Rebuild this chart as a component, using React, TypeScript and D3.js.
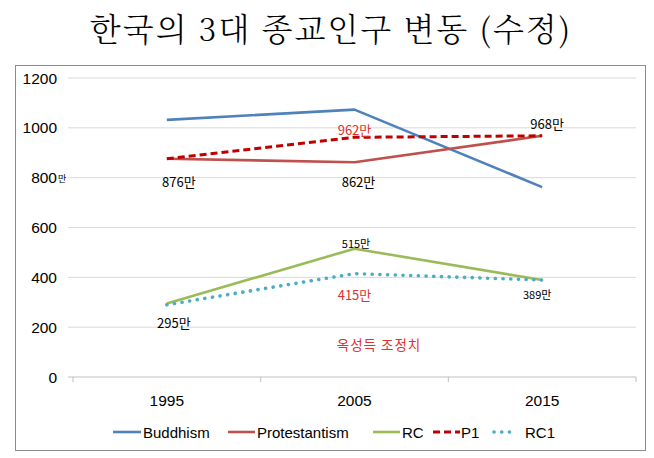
import React from 'react';
import * as d3 from 'd3';

const years = ['1995', '2005', '2015'];
const buddhism = [1032, 1073, 762];
const protestantism = [876, 862, 968];
const rc = [295, 515, 389];
const p1 = [876, 962, 968];
const rc1 = [290, 415, 389];
const yTicks = [0, 200, 400, 600, 800, 1000, 1200];

const seriesNames = ['Buddhism', 'Protestantism', 'RC', 'P1', 'RC1'];
const seriesValues = [buddhism, protestantism, rc, p1, rc1];

const W = 654;
const H = 458;
const plot = { left: 73, right: 636, top: 78, bottom: 377 };

const labelFont = "'Noto Sans CJK KR', sans-serif";
const axisFont = "'Liberation Sans', Arial, sans-serif";

const styles = [
  { color: '#4F81BD', width: 2.6, dash: null, cap: 'butt' },
  { color: '#C0504D', width: 2.6, dash: null, cap: 'butt' },
  { color: '#9BBB59', width: 2.6, dash: null, cap: 'butt' },
  { color: '#C00000', width: 3, dash: '7,4', cap: 'butt' },
  { color: '#4BACC6', width: 3.6, dash: '0.1,7.6', cap: 'round' },
];

export default function App() {
  const x = d3.scalePoint<string>().domain(years).range([plot.left, plot.right]).padding(0.5);
  const y = d3.scaleLinear().domain([0, 1200]).range([plot.bottom, plot.top]);
  const line = d3
    .line<number>()
    .x((_, i) => x(years[i]) as number)
    .y((d) => y(d));

  const step = x.step();
  const boundaries = d3.range(years.length + 1).map((i) => plot.left + i * step);

  // value labels, offset from their point
  const px = (i: number) => x(years[i]) as number;
  const labels = [
    { t: '876만', x: px(0) + 12, y: y(protestantism[0]) + 28, c: '#000', s: 13 },
    { t: '862만', x: px(1) + 4, y: y(protestantism[1]) + 25, c: '#000', s: 13 },
    { t: '962만', x: px(1), y: y(p1[1]) - 2, c: '#E03030', s: 13 },
    { t: '968만', x: px(2) + 5, y: y(p1[2]) - 7, c: '#000', s: 13 },
    { t: '515만', x: px(1) + 1.5, y: y(rc[1]) - 1, c: '#000', s: 11 },
    { t: '415만', x: px(1), y: y(rc1[1]) + 26, c: '#E03030', s: 13 },
    { t: '389만', x: px(2) - 5, y: y(rc[2]) + 19, c: '#000', s: 11 },
    { t: '295만', x: px(0) + 7, y: y(rc[0]) + 25, c: '#000', s: 13 },
  ];

  const legendItems = [
    { x1: 113, x2: 141, tx: 143 },
    { x1: 228, x2: 255, tx: 257 },
    { x1: 373, x2: 400, tx: 402 },
    { x1: 433, x2: 460, tx: 461 },
    { x1: 494, x2: 516, tx: 525 },
  ];
  const legendY = 432;

  return (
    <svg
      width={W}
      height={H}
      style={{ position: 'absolute', left: 0, top: 0, background: '#fff' }}
    >
      <rect x={0} y={0} width={W} height={H} fill="#fff" />
      <text
        x={331}
        y={41}
        textAnchor="middle"
        fontSize={32}
        fontFamily="'Noto Serif CJK KR', 'Noto Sans CJK KR', serif"
        fontWeight={300}
        fill="#000"
        letterSpacing={2}
      >
        한국의 3대 종교인구 변동 (수정)
      </text>

      <rect x={15.5} y={65.5} width={630} height={385} fill="none" stroke="#8c8c8c" strokeWidth={1} />

      {yTicks.map((t) => (
        <g key={t}>
          <line x1={68} x2={plot.right} y1={y(t)} y2={y(t)} stroke={t === 0 ? '#bfbfbf' : '#d9d9d9'} strokeWidth={1} />
          <text x={57} y={y(t) + 5.5} textAnchor="end" fontSize={15.5} fontFamily={axisFont} fill="#000">
            {t}
          </text>
        </g>
      ))}
      <text x={58} y={y(800) + 4} fontSize={9} fontFamily={labelFont} fill="#000">
        만
      </text>

      {boundaries.map((b, i) => (
        <line key={i} x1={b} x2={b} y1={plot.bottom} y2={plot.bottom + 5} stroke="#bfbfbf" strokeWidth={1} />
      ))}
      {years.map((yr) => (
        <text key={yr} x={x(yr)} y={406} textAnchor="middle" fontSize={15.5} fontFamily={axisFont} fill="#000">
          {yr}
        </text>
      ))}

      {seriesValues.map((vals, i) => (
        <path
          key={seriesNames[i]}
          d={line(vals) || ''}
          fill="none"
          stroke={styles[i].color}
          strokeWidth={styles[i].width}
          strokeDasharray={styles[i].dash || undefined}
          strokeLinecap={styles[i].cap as any}
          strokeLinejoin="round"
        />
      ))}

      {labels.map((l) => (
        <text key={l.t} x={l.x} y={l.y} textAnchor="middle" fontSize={l.s} fontFamily={labelFont} fill={l.c}>
          {l.t}
        </text>
      ))}
      <text x={379} y={350} textAnchor="middle" fontSize={13.5} fontFamily={labelFont} fill="#E03030" letterSpacing={1}>
        옥성득 조정치
      </text>

      {legendItems.map((it, i) => (
        <g key={seriesNames[i]}>
          <line
            x1={it.x1}
            x2={it.x2}
            y1={legendY}
            y2={legendY}
            stroke={styles[i].color}
            strokeWidth={styles[i].width}
            strokeDasharray={styles[i].dash || undefined}
            strokeLinecap={styles[i].cap as any}
          />
          <text x={it.tx} y={legendY + 5.5} fontSize={15} fontFamily={axisFont} fill="#000">
            {seriesNames[i]}
          </text>
        </g>
      ))}
    </svg>
  );
}
